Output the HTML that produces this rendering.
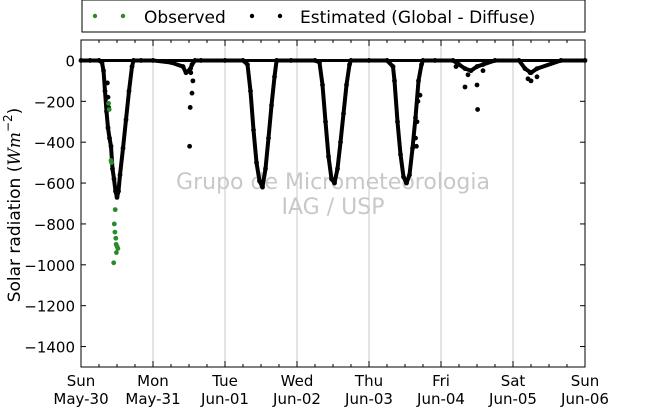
<!DOCTYPE html>
<html><head><meta charset="utf-8"><style>
body{margin:0;background:#fff;width:650px;height:409px;overflow:hidden;font-family:"DejaVu Sans","Liberation Sans",sans-serif}
</style></head><body>
<svg id="c" width="650" height="409" xmlns="http://www.w3.org/2000/svg" font-family="DejaVu Sans, Liberation Sans, sans-serif"></svg>
<script>
const dayLabels1=["Sun","Mon","Tue","Wed","Thu","Fri","Sat","Sun"];
const dayLabels2=["May-30","May-31","Jun-01","Jun-02","Jun-03","Jun-04","Jun-05","Jun-06"];
const yTicks=[0,-200,-400,-600,-800,-1000,-1200,-1400];
// estimated series: hours since May-30 00:00, values W/m2
const estHours=[0,3,6,7,7.5,8,8.5,9,9.5,10,10.5,11,11.5,12,12.5,13,14,15,16,17,17.5,20,24,30,34,35,36,36.5,37,38,40,48,54,55.5,56.5,57.5,58.5,59.5,60.5,61.5,62.5,63.5,64.5,65.2,70,78,79.5,80.5,81.5,82.5,83.5,84.5,85.5,86.5,87.5,88.5,89.5,90,96,102,104,104.5,105.5,106.5,107.5,108.5,109.5,110.5,111.5,112.5,113.5,114,118,124,126,128,130,132,134,138,146,148,150,152,160,168];
const estVals=[0,0,0,-10,-50,-150,-250,-330,-380,-420,-530,-580,-640,-670,-640,-560,-430,-290,-150,-30,0,0,0,-10,-30,-60,-50,-40,-20,0,0,0,0,-20,-150,-340,-500,-590,-620,-530,-380,-220,-80,0,0,0,-10,-120,-300,-470,-580,-600,-530,-400,-260,-120,-20,0,0,0,-30,-100,-300,-460,-570,-600,-560,-430,-280,-100,-20,0,0,0,-20,-40,-50,-30,-20,0,0,-40,-60,-40,0,0];
const scatterHours=[9,9.2,8.8,36.2,36.4,37,37.3,36.6,111.5,111.8,112,112.3,113,128,132,132.2,134,125,129,149.7,150,152,149];
const scatterVals=[-180,-230,-110,-420,-230,-160,-100,-60,-380,-420,-300,-200,-170,-130,-120,-240,-50,-30,-70,-60,-100,-80,-90];
const obsHours=[9.2,9.4,10,10.2,11.4,11.1,11.3,11.6,11.7,12,12.3,11.8,10.9];
const obsVals=[-210,-240,-490,-500,-730,-800,-840,-870,-900,-910,-920,-940,-990];

const NS="http://www.w3.org/2000/svg",svg=document.getElementById('c');
const L=81,R=585,T=40,B=367,yMax=100,yMin=-1500;
const xs=h=>L+(R-L)*h/168;
const ys=v=>T+(B-T)*(yMax-v)/(yMax-yMin);
function mk(t,a,p){const e=document.createElementNS(NS,t);for(const k in a)e.setAttribute(k,a[k]);(p||svg).appendChild(e);return e;}

// legend
const lg=mk('g',{});


mk('rect',{x:82,y:0,width:503,height:32,fill:'#fff',stroke:'#000','stroke-width':1},lg);
mk('circle',{cx:95,cy:16,r:2.2,fill:'#2a8a2a'},lg);mk('circle',{cx:123,cy:16,r:2.2,fill:'#2a8a2a'},lg);
let t=mk('text',{x:144,y:23,'font-size':17},lg);t.textContent='Observed';
mk('circle',{cx:252,cy:16,r:2.2,fill:'#000'},lg);mk('circle',{cx:280,cy:16,r:2.2,fill:'#000'},lg);
t=mk('text',{x:300,y:23,'font-size':17},lg);t.textContent='Estimated (Global - Diffuse)';

// grid
for(let d=1;d<7;d++){const g=mk('line',{x1:xs(d*24),x2:xs(d*24),y1:T,y2:B,stroke:'#c8c8c8','stroke-width':1});

}

// watermark
t=mk('text',{x:333,y:189,'font-size':22,fill:'#c8c8c8','text-anchor':'middle'});t.textContent='Grupo de Micrometeorologia';


t=mk('text',{x:333,y:214,'font-size':22,fill:'#c8c8c8','text-anchor':'middle'});t.textContent='IAG / USP';

// zero line
mk('line',{x1:L,x2:R,y1:ys(0),y2:ys(0),stroke:'#000','stroke-width':3});

// estimated series
const pl=mk('polyline',{points:estHours.map((h,i)=>xs(h)+','+ys(estVals[i])).join(' '),fill:'none',stroke:'#000','stroke-width':4,'stroke-linejoin':'round'});


estHours.forEach((h,i)=>{const c=mk('circle',{cx:xs(h),cy:ys(estVals[i]),r:2.4,fill:'#000'});

});
scatterHours.forEach((h,i)=>{const c=mk('circle',{cx:xs(h),cy:ys(scatterVals[i]),r:2.4,fill:'#000'});

});
obsHours.forEach((h,i)=>{const c=mk('circle',{cx:xs(h),cy:ys(obsVals[i]),r:2.4,fill:'#2a8a2a'});

});

// frame
mk('rect',{x:L,y:T,width:R-L,height:B-T,fill:'none',stroke:'#000','stroke-width':1});
// y ticks
yTicks.forEach(v=>{const y=ys(v);
mk('line',{x1:L,x2:L+5,y1:y,y2:y,stroke:'#000'});mk('line',{x1:R-5,x2:R,y1:y,y2:y,stroke:'#000'});
const tx=mk('text',{x:L-6,y:y+6,'font-size':15,'text-anchor':'end'});tx.textContent=v===0?'0':'\u2212'+(-v);

});
// x ticks
for(let h=0;h<=168;h+=6){const x=xs(h),len=h%24===0?6:3;
mk('line',{x1:x,x2:x,y1:B-len,y2:B,stroke:'#000'});mk('line',{x1:x,x2:x,y1:T,y2:T+len,stroke:'#000'});}
dayLabels1.forEach((s,i)=>{const x=xs(i*24);
let a=mk('text',{x:x,y:386,'font-size':15,'text-anchor':'middle'});a.textContent=s;


a=mk('text',{x:x,y:404,'font-size':15,'text-anchor':'middle'});a.textContent=dayLabels2[i];});
// y title
t=mk('text',{x:0,y:0,'font-size':17,'text-anchor':'middle',transform:'translate(20,205) rotate(-90)'});


t.innerHTML='Solar radiation (<tspan font-style="italic" font-family="DejaVu Serif, Liberation Serif, serif">Wm</tspan><tspan font-size="12" dy="-8">−2</tspan><tspan dy="8">)</tspan>';
</script>
</body></html>
